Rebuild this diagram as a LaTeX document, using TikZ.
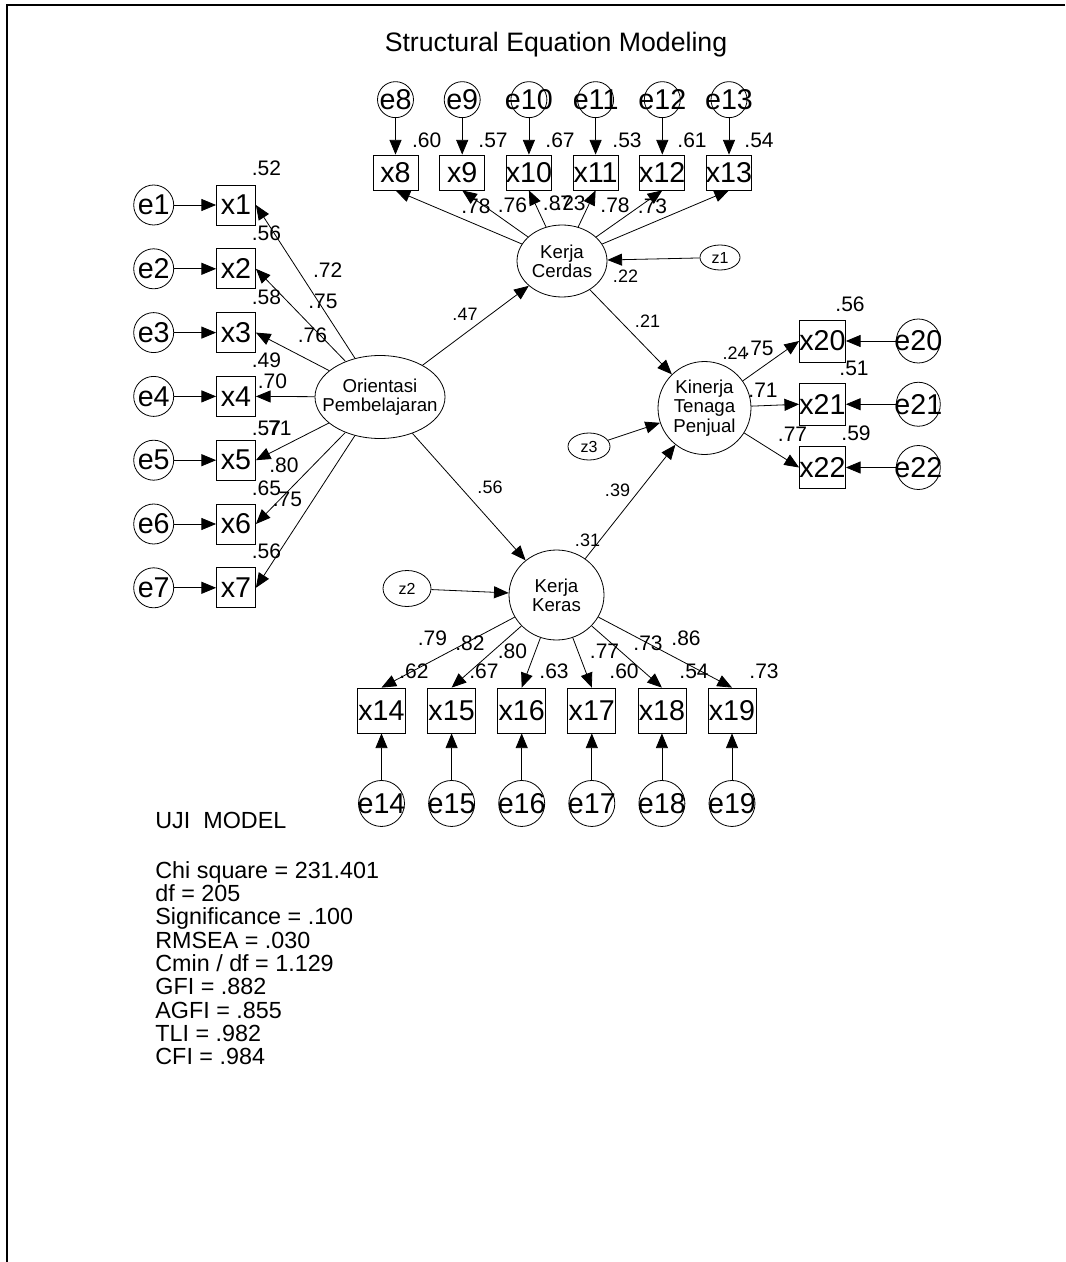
\documentclass[tikz,border=0pt]{standalone}
\usepackage{fontspec}
\setmainfont{Liberation Sans}
\usetikzlibrary{arrows.meta, positioning, shapes.geometric}

\begin{document}
\begin{tikzpicture}[x=0.75pt, y=-0.75pt, line width=0.6pt, >={Triangle[length=11pt, width=9pt]},
  obs/.style={draw, rectangle, inner sep=0pt, label={[font=\fontsize{21.5}{24}\selectfont, inner sep=0pt]center:#1}},
  obsleft/.style={obs=#1, minimum width=29.25pt, minimum height=30pt},
  obstop/.style={obs=#1, minimum width=33.75pt, minimum height=26.25pt},
  obsbottom/.style={obs=#1, minimum width=36pt, minimum height=33.75pt},
  obsright/.style={obs=#1, minimum width=34.5pt, minimum height=31.5pt},
  err/.style={draw, circle, inner sep=0pt, label={[font=\fontsize{21.5}{24}\selectfont, inner sep=0pt]center:#1}},
  errleft/.style={err=#1, minimum size=30pt},
  errtop/.style={err=#1, minimum size=27pt},
  errbottom/.style={err=#1, minimum size=34.5pt},
  errright/.style={err=#1, minimum size=33pt},
  latent/.style={draw, ellipse, inner sep=0pt, label={[font=\fontsize{14}{14.5}\selectfont, align=center, inner sep=0pt]center:#1}},
  dist/.style={draw, ellipse, inner sep=0pt, label={[font=\fontsize{12}{12}\selectfont, inner sep=0pt]center:#1}},
  coef/.style={inner sep=0pt, font=\fontsize{15.75}{16}\selectfont},
  pcoef/.style={inner sep=0pt, font=\fontsize{13.5}{14}\selectfont}]

  \useasboundingbox (0,0) rectangle (1065,1262);
  \draw[line width=1.5pt] (1065,5) -- (7,5) -- (7,1262);

  % Judul
  \node[inner sep=0pt, font=\fontsize{20}{24}\selectfont] (title) at (556,45) {Structural Equation Modeling};

  % Variabel laten
  \node[latent={Orientasi\\Pembelajaran}, minimum width=97.5pt, minimum height=62.25pt] (op) at (380,397) {};
  \node[latent={Kerja\\Cerdas}, minimum width=67.5pt, minimum height=54pt] (kc) at (562,261) {};
  \node[latent={Kerja\\Keras}, minimum width=71.25pt, minimum height=67.5pt] (kk) at (556.5,595) {};
  \node[latent={Kinerja\\Tenaga\\Penjual}, minimum width=69.75pt, minimum height=69.75pt] (kt) at (704.5,408) {};
  \node[dist=z1, minimum width=30pt, minimum height=18.75pt] (z1) at (720,257.5) {};
  \node[dist=z2, minimum width=36pt, minimum height=27pt] (z2) at (407,588.5) {};
  \node[dist=z3, minimum width=31.5pt, minimum height=20.25pt] (z3) at (589,446.5) {};

  % Indikator kiri (x1 - x7)
  \node[obsleft=x1] (x1) at (236,205) {};
  \node[obsleft=x2] (x2) at (236,268.8) {};
  \node[obsleft=x3] (x3) at (236,332.6) {};
  \node[obsleft=x4] (x4) at (236,396.4) {};
  \node[obsleft=x5] (x5) at (236,460.2) {};
  \node[obsleft=x6] (x6) at (236,524) {};
  \node[obsleft=x7] (x7) at (236,587.8) {};
  \node[errleft=e1, left=31.5pt of x1] (e1) {};
  \node[errleft=e2, left=31.5pt of x2] (e2) {};
  \node[errleft=e3, left=31.5pt of x3] (e3) {};
  \node[errleft=e4, left=31.5pt of x4] (e4) {};
  \node[errleft=e5, left=31.5pt of x5] (e5) {};
  \node[errleft=e6, left=31.5pt of x6] (e6) {};
  \node[errleft=e7, left=31.5pt of x7] (e7) {};

  % Indikator atas (x8 - x13)
  \node[obstop=x8] (x8) at (395.5,172.5) {};
  \node[obstop=x9] (x9) at (462.2,172.5) {};
  \node[obstop=x10] (x10) at (528.9,172.5) {};
  \node[obstop=x11] (x11) at (595.6,172.5) {};
  \node[obstop=x12] (x12) at (662.3,172.5) {};
  \node[obstop=x13] (x13) at (729,172.5) {};
  \node[errtop=e8, above=27.4pt of x8] (e8) {};
  \node[errtop=e9, above=27.4pt of x9] (e9) {};
  \node[errtop=e10, above=27.4pt of x10] (e10) {};
  \node[errtop=e11, above=27.4pt of x11] (e11) {};
  \node[errtop=e12, above=27.4pt of x12] (e12) {};
  \node[errtop=e13, above=27.4pt of x13] (e13) {};

  % Indikator bawah (x14 - x19)
  \node[obsbottom=x14] (x14) at (381.5,710.5) {};
  \node[obsbottom=x15] (x15) at (451.6,710.5) {};
  \node[obsbottom=x16] (x16) at (521.7,710.5) {};
  \node[obsbottom=x17] (x17) at (591.8,710.5) {};
  \node[obsbottom=x18] (x18) at (661.9,710.5) {};
  \node[obsbottom=x19] (x19) at (732,710.5) {};
  \node[errbottom=e14, below=35pt of x14] (e14) {};
  \node[errbottom=e15, below=35pt of x15] (e15) {};
  \node[errbottom=e16, below=35pt of x16] (e16) {};
  \node[errbottom=e17, below=35pt of x17] (e17) {};
  \node[errbottom=e18, below=35pt of x18] (e18) {};
  \node[errbottom=e19, below=35pt of x19] (e19) {};

  % Indikator kanan (x20 - x22)
  \node[obsright=x20] (x20) at (822.5,341) {};
  \node[obsright=x21] (x21) at (822.5,404.25) {};
  \node[obsright=x22] (x22) at (822.5,467.5) {};
  \node[errright=e20, right=37.5pt of x20] (e20) {};
  \node[errright=e21, right=37.5pt of x21] (e21) {};
  \node[errright=e22, right=37.5pt of x22] (e22) {};

  % Panah error ke indikator
  \draw[->] (e1) -- (x1);
  \draw[->] (e2) -- (x2);
  \draw[->] (e3) -- (x3);
  \draw[->] (e4) -- (x4);
  \draw[->] (e5) -- (x5);
  \draw[->] (e6) -- (x6);
  \draw[->] (e7) -- (x7);
  \draw[->] (e8) -- (x8);
  \draw[->] (e9) -- (x9);
  \draw[->] (e10) -- (x10);
  \draw[->] (e11) -- (x11);
  \draw[->] (e12) -- (x12);
  \draw[->] (e13) -- (x13);
  \draw[->] (e14) -- (x14);
  \draw[->] (e15) -- (x15);
  \draw[->] (e16) -- (x16);
  \draw[->] (e17) -- (x17);
  \draw[->] (e18) -- (x18);
  \draw[->] (e19) -- (x19);
  \draw[->] (e20) -- (x20);
  \draw[->] (e21) -- (x21);
  \draw[->] (e22) -- (x22);

  % Panah loading
  \draw[->] (op) -- (x1.east);
  \draw[->] (op) -- (x2.east);
  \draw[->] (op) -- (x3.east);
  \draw[->] (op) -- (x4.east);
  \draw[->] (op) -- (x5.east);
  \draw[->] (op) -- (x6.east);
  \draw[->] (op) -- (x7.east);
  \draw[->] (kc) -- (x8.south);
  \draw[->] (kc) -- (x9.south);
  \draw[->] (kc) -- (x10.south);
  \draw[->] (kc) -- (x11.south);
  \draw[->] (kc) -- (x12.south);
  \draw[->] (kc) -- (x13.south);
  \draw[->] (kk) -- (x14.north);
  \draw[->] (kk) -- (x15.north);
  \draw[->] (kk) -- (x16.north);
  \draw[->] (kk) -- (x17.north);
  \draw[->] (kk) -- (x18.north);
  \draw[->] (kk) -- (x19.north);
  \draw[->] (kt) -- (x20.west);
  \draw[->] (kt) -- (x21.west);
  \draw[->] (kt) -- (x22.west);

  % Jalur struktural dan residual
  \draw[->] (op) -- (kc);
  \draw[->] (op) -- (kk);
  \draw[->] (kc) -- (kt);
  \draw[->] (kk) -- (kt);
  \draw[->] (z1) -- (kc);
  \draw[->] (z2) -- (kk);
  \draw[->] (z3) -- (kt);

  % Koefisien indikator kiri
  \node[coef] (r1) at (266.5,168) {.52};
  \node[coef] (r2) at (266.5,233) {.56};
  \node[coef] (r3) at (266.5,297) {.58};
  \node[coef] (r4) at (266.5,360) {.49};
  \node[coef] (r5) at (266.5,428) {.57};
  \node[coef] (r6) at (266.5,488) {.65};
  \node[coef] (r7) at (266.5,551.5) {.56};
  \node[coef] (l1) at (327.7,270) {.72};
  \node[coef] (l2) at (323,301) {.75};
  \node[coef] (l3) at (312.5,335.5) {.76};
  \node[coef] (l4) at (272.5,381) {.70};
  \node[coef] (l5) at (277,428) {.71};
  \node[coef] (l6) at (284,465) {.80};
  \node[coef] (l7) at (287.5,499) {.75};

  % Koefisien indikator atas
  \node[coef] (r8) at (426.7,140.5) {.60};
  \node[coef] (r9) at (493,140.5) {.57};
  \node[coef] (r10) at (560,140.5) {.67};
  \node[coef] (r11) at (627,140.5) {.53};
  \node[coef] (r12) at (692,140.5) {.61};
  \node[coef] (r13) at (759,140.5) {.54};
  \node[coef] (l8) at (476,206) {.78};
  \node[coef] (l9) at (512.5,205) {.76};
  \node[coef] (l10) at (557.5,203) {.87};
  \node[coef] (l11) at (571,203) {.23};
  \node[coef] (l12) at (615,205) {.78};
  \node[coef] (l13) at (652.5,206) {.73};

  % Koefisien indikator bawah
  \node[coef] (l14) at (432.5,638) {.79};
  \node[coef] (l15) at (470,643) {.82};
  \node[coef] (l16) at (512.5,651.7) {.80};
  \node[coef] (l17) at (604.5,651.7) {.77};
  \node[coef] (l18) at (648,643) {.73};
  \node[coef] (l19) at (686,638) {.86};
  \node[coef] (r14) at (414,671.5) {.62};
  \node[coef] (r15) at (484,671.5) {.67};
  \node[coef] (r16) at (554,671.5) {.63};
  \node[coef] (r17) at (624,671.5) {.60};
  \node[coef] (r18) at (694,671.5) {.54};
  \node[coef] (r19) at (764,671.5) {.73};

  % Koefisien indikator kanan
  \node[coef] (r20) at (850,304) {.56};
  \node[coef] (r21) at (854,368) {.51};
  \node[coef] (r22) at (856,433) {.59};
  \node[coef] (l20) at (759,348) {.75};
  \node[coef] (l21) at (763,390) {.71};
  \node[coef] (l22) at (792.5,434) {.77};

  % Koefisien jalur struktural
  \node[pcoef] (p1) at (465,314) {.47};
  \node[pcoef] (p2) at (490,487) {.56};
  \node[pcoef] (p3) at (647.5,321.5) {.21};
  \node[pcoef] (p4) at (617.5,490) {.39};
  \node[pcoef] (rkc) at (625.5,276) {.22};
  \node[pcoef] (rkk) at (587.5,540.5) {.31};
  \node[pcoef] (rkt) at (735,353) {.24};

  % Uji model
  \node[anchor=north west, inner sep=0pt, align=left, font=\fontsize{17.5}{17.5}\selectfont] (stats) at (155,812)
    {UJI\ \ MODEL\\[19.5pt]
     Chi square = 231.401\\
     df = 205\\
     Significance = .100\\
     RMSEA = .030\\
     Cmin / df = 1.129\\
     GFI = .882\\
     AGFI = .855\\
     TLI = .982\\
     CFI = .984};
\end{tikzpicture}
\end{document}
